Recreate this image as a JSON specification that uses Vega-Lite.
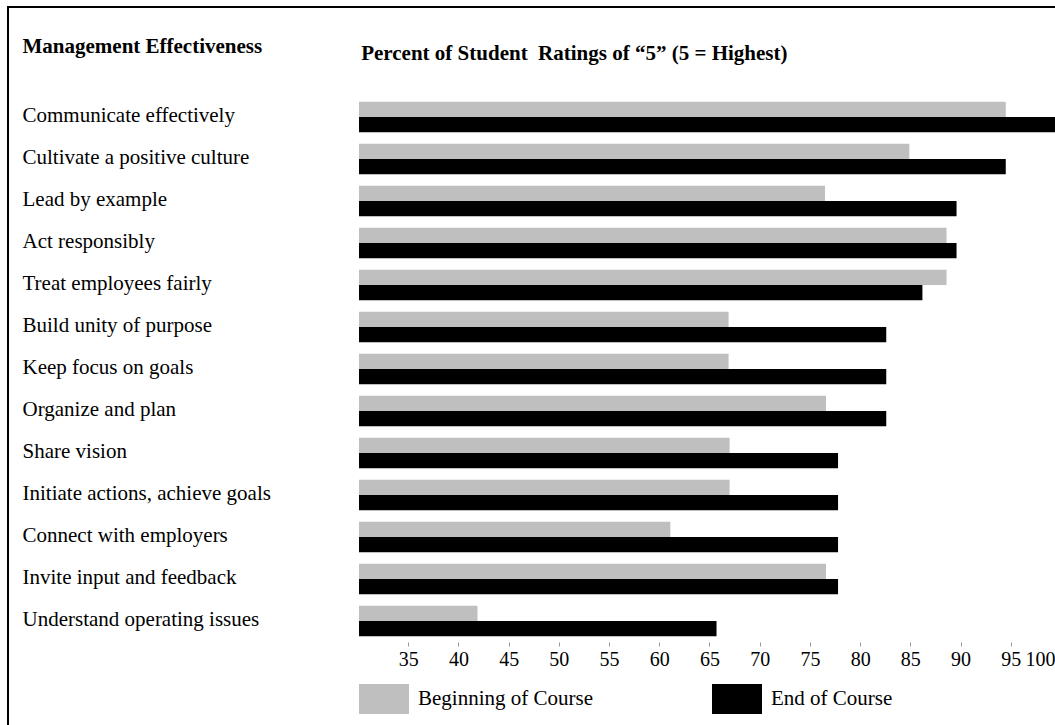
{
  "$schema": "https://vega.github.io/schema/vega-lite/v6.json",
  "autosize": {"type": "none"},
  "width": 1048,
  "height": 719,
  "padding": {"left": 8, "top": 7, "right": -1, "bottom": -1},
  "background": "white",
  "data": {
    "values": [
      {"item": "Communicate effectively", "series": "Beginning of Course", "value": 94.5},
      {"item": "Communicate effectively", "series": "End of Course", "value": 100},
      {"item": "Cultivate a positive culture", "series": "Beginning of Course", "value": 84.9},
      {"item": "Cultivate a positive culture", "series": "End of Course", "value": 94.5},
      {"item": "Lead by example", "series": "Beginning of Course", "value": 76.5},
      {"item": "Lead by example", "series": "End of Course", "value": 89.6},
      {"item": "Act responsibly", "series": "Beginning of Course", "value": 88.6},
      {"item": "Act responsibly", "series": "End of Course", "value": 89.6},
      {"item": "Treat employees fairly", "series": "Beginning of Course", "value": 88.6},
      {"item": "Treat employees fairly", "series": "End of Course", "value": 86.2},
      {"item": "Build unity of purpose", "series": "Beginning of Course", "value": 66.9},
      {"item": "Build unity of purpose", "series": "End of Course", "value": 82.6},
      {"item": "Keep focus on goals", "series": "Beginning of Course", "value": 66.9},
      {"item": "Keep focus on goals", "series": "End of Course", "value": 82.6},
      {"item": "Organize and plan", "series": "Beginning of Course", "value": 76.6},
      {"item": "Organize and plan", "series": "End of Course", "value": 82.6},
      {"item": "Share vision", "series": "Beginning of Course", "value": 67.0},
      {"item": "Share vision", "series": "End of Course", "value": 77.8},
      {"item": "Initiate actions, achieve goals", "series": "Beginning of Course", "value": 67.0},
      {"item": "Initiate actions, achieve goals", "series": "End of Course", "value": 77.8},
      {"item": "Connect with employers", "series": "Beginning of Course", "value": 61.1},
      {"item": "Connect with employers", "series": "End of Course", "value": 77.8},
      {"item": "Invite input and feedback", "series": "Beginning of Course", "value": 76.6},
      {"item": "Invite input and feedback", "series": "End of Course", "value": 77.8},
      {"item": "Understand operating issues", "series": "Beginning of Course", "value": 41.9},
      {"item": "Understand operating issues", "series": "End of Course", "value": 65.7}
    ]
  },
  "mark": {"type": "bar"},
  "encoding": {
    "y": {
      "field": "item",
      "type": "nominal",
      "sort": null,
      "scale": {"range": [89, 635], "paddingInner": 0, "paddingOuter": 0},
      "axis": {
        "title": "Management Effectiveness",
        "titleAngle": 0,
        "titleX": 14,
        "titleY": 45,
        "titleAlign": "left",
        "titleBaseline": "alphabetic",
        "titleFont": "Liberation Serif",
        "titleFontSize": 21,
        "titleFontWeight": "bold",
        "titleColor": "black",
        "labelFont": "Liberation Serif",
        "labelFontSize": 21,
        "labelColor": "black",
        "labelAlign": "left",
        "labelBaseline": "alphabetic",
        "labelPadding": -14,
        "labelOffset": 5,
        "labelLimit": 400,
        "ticks": false,
        "tickSize": 0,
        "domain": false,
        "grid": false
      }
    },
    "yOffset": {
      "field": "series",
      "type": "nominal",
      "sort": ["Beginning of Course", "End of Course"],
      "scale": {"paddingInner": 0, "paddingOuter": 0.375}
    },
    "x": {
      "field": "value",
      "type": "quantitative",
      "stack": null,
      "scale": {"domain": [30.1, 100], "range": [351, 1053], "zero": false, "nice": false},
      "axis": {
        "values": [35, 40, 45, 50, 55, 60, 65, 70, 75, 80, 85, 90, 95, 100],
        "orient": "bottom",
        "offset": -84,
        "domain": false,
        "grid": false,
        "ticks": true,
        "tickSize": 4,
        "tickColor": "#999999",
        "tickWidth": 1,
        "labelFont": "Liberation Serif",
        "labelFontSize": 20,
        "labelColor": "black",
        "labelPadding": 3,
        "labelFlush": true,
        "labelFlushOffset": -6,
        "labelOverlap": false,
        "title": "Percent of Student\u00a0 Ratings of “5” (5 = Highest)",
        "titleX": 352.7,
        "titleY": -582.5,
        "titleAlign": "left",
        "titleBaseline": "alphabetic",
        "titleFont": "Liberation Serif",
        "titleFontSize": 21,
        "titleFontWeight": "bold",
        "titleColor": "black"
      }
    },
    "color": {
      "field": "series",
      "type": "nominal",
      "scale": {"domain": ["Beginning of Course", "End of Course"], "range": ["#BFBFBF", "#000000"]},
      "legend": {
        "orient": "none",
        "legendX": 351,
        "legendY": 667,
        "direction": "horizontal",
        "title": null,
        "symbolType": "M-1,-0.6H1V0.6H-1Z",
        "symbolSize": 2500,
        "symbolStrokeWidth": 0,
        "symbolOpacity": 1,
        "labelFont": "Liberation Serif",
        "labelFontSize": 21,
        "labelColor": "black",
        "labelOffset": 9,
        "labelLimit": 400,
        "columnPadding": 119,
        "padding": 0
      }
    }
  },
  "config": {"view": {"stroke": "black", "strokeWidth": 2}}
}
